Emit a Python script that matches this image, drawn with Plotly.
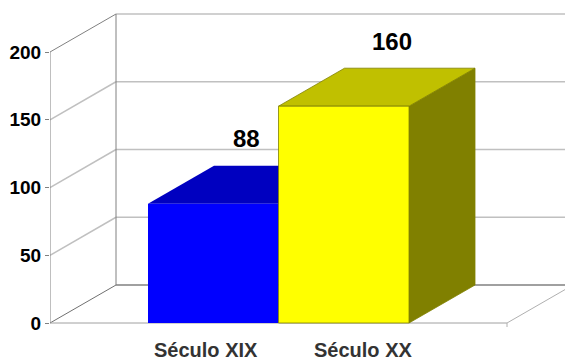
import plotly.graph_objects as go

# ---- data ----
categories = ["Século XIX", "Século XX"]
values = [88, 160]
tick_values = [0, 50, 100, 150, 200]

# ---- layout / style parameters (pixels on x, value units on y) ----
FRONT_COLORS = ["#0000FF", "#FFFF00"]
TOP_COLORS = ["#0000C0", "#C0C000"]
SIDE_COLORS = ["#000080", "#808000"]
EDGE_COLORS = ["#0000C0", "#808000"]
AX_X0 = 50          # front axis x position (px)
AX_X1 = 507         # front floor right end (px)
BAR_LEFT0 = 148     # left of first bar front face
BAR_W = 130.5       # bar width (px)
DX = 66             # depth offset in x (px)
PX_PER_UNIT = 1.355
DY = 38 / PX_PER_UNIT  # depth offset in value units
Y0_PX = 323
LABEL_X = [206, 363]
VAL_LABEL_DX = [0, 15]
VMAX = 200
RIGHT_END = 600
FONT = "Liberation Sans, Arial"

y_top = Y0_PX / PX_PER_UNIT
y_bot = -(363 - Y0_PX) / PX_PER_UNIT

fig = go.Figure()

def line(xs, ys, color, width):
    fig.add_trace(go.Scatter(x=xs, y=ys, mode="lines",
                             line=dict(color=color, width=width),
                             hoverinfo="skip", showlegend=False))

def poly(xs, ys, fill, edge, width):
    fig.add_trace(go.Scatter(x=xs + [xs[0]], y=ys + [ys[0]], mode="lines",
                             fill="toself", fillcolor=fill,
                             line=dict(color=edge, width=width),
                             hoverinfo="skip", showlegend=False))

# back wall gridlines and left wall gridlines
for v in tick_values[1:]:
    line([AX_X0 + DX, RIGHT_END], [v + DY, v + DY], "#C0C0C0", 1.5)
    col = "#808080" if v == VMAX else "#C0C0C0"
    w = 1 if v == VMAX else 1.5
    line([AX_X0, AX_X0 + DX], [v, v + DY], col, w)

# back wall vertical edge
line([AX_X0 + DX, AX_X0 + DX], [DY, VMAX + DY], "#808080", 1)
# floor
line([AX_X0 + DX, RIGHT_END], [DY, DY], "#808080", 1.5)
line([AX_X0, AX_X0 + DX], [0, DY], "#707070", 1)
line([AX_X0, AX_X1], [0, 0], "#A0A0A0", 1)
line([AX_X1, AX_X1 + DX], [0, DY], "#B0B0B0", 1)
line([AX_X1, AX_X1], [0, -4 / PX_PER_UNIT], "#B0B0B0", 1)
# front vertical axis
line([AX_X0, AX_X0], [0, VMAX], "#808080", 1)

# bars
for i, v in enumerate(values):
    L = BAR_LEFT0 + i * BAR_W
    R = L + BAR_W
    ew = 0 if i == 0 else 0.8
    # side face
    poly([R, R + DX, R + DX, R], [0, DY, v + DY, v], SIDE_COLORS[i], EDGE_COLORS[i], ew)
    # top face
    poly([L, R, R + DX, L + DX], [v, v, v + DY, v + DY], TOP_COLORS[i], EDGE_COLORS[i], ew)
    # front face
    poly([L, R, R, L], [0, 0, v, v], FRONT_COLORS[i], EDGE_COLORS[i], ew)

annotations = []
for i, v in enumerate(values):
    L = BAR_LEFT0 + i * BAR_W
    cx = L + BAR_W / 2 + DX / 2 + VAL_LABEL_DX[i]
    annotations.append(dict(x=cx, y=v + DY + 20, text="<b>%d</b>" % v, showarrow=False,
                            xanchor="center", yanchor="middle",
                            font=dict(family=FONT, size=24, color="black")))
    annotations.append(dict(x=LABEL_X[i], y=y_bot + 1 / PX_PER_UNIT,
                            text="<b>%s</b>" % categories[i], showarrow=False,
                            xanchor="center", yanchor="bottom", borderpad=0,
                            font=dict(family=FONT, size=20, color="#333333")))

fig.update_layout(
    width=565, height=363,
    margin=dict(l=AX_X0, r=0, t=0, b=0),
    paper_bgcolor="white", plot_bgcolor="white",
    xaxis=dict(range=[AX_X0, 565], visible=False, fixedrange=True),
    yaxis=dict(range=[y_bot, y_top], tickvals=tick_values,
               ticktext=["<b>%d</b>" % t for t in tick_values],
               ticks="outside", ticklen=4, tickcolor="#808080", tickwidth=1,
               showgrid=False, zeroline=False, showline=False,
               tickfont=dict(family=FONT, size=19, color="black")),
    annotations=annotations,
    showlegend=False,
)

fig.write_html("out.html")
